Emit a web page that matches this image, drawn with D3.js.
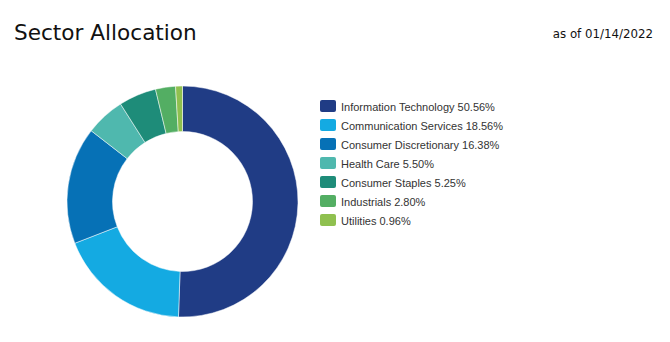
<!DOCTYPE html>
<html>
<head>
<meta charset="utf-8">
<script src="https://cdn.jsdelivr.net/npm/d3@7"></script>
<style>
  html, body { margin: 0; padding: 0; background: #fff; }
  svg { display: block; }
</style>
</head>
<body>
<svg id="chart" width="670" height="342"></svg>
<script>
// Sector weights of the fund
const sectors = [
  "Information Technology",
  "Communication Services",
  "Consumer Discretionary",
  "Health Care",
  "Consumer Staples",
  "Industrials",
  "Utilities"
];
const weights = [50.56, 18.56, 16.38, 5.50, 5.25, 2.80, 0.96];
const sectorColors = ["#203c85", "#14aae2", "#0671b6", "#4fb8ae", "#1e8c79", "#53ae63", "#8fc04f"];
const asOfDate = "01/14/2022";

const svg = d3.select("#chart");

svg.append("text")
  .attr("x", 14).attr("y", 40)
  .attr("font-family", "'DejaVu Sans', sans-serif")
  .attr("font-size", 21.6)
  .attr("fill", "#111")
  .text("Sector Allocation");

svg.append("text")
  .attr("x", 653).attr("y", 38)
  .attr("text-anchor", "end")
  .attr("font-family", "'DejaVu Sans', sans-serif")
  .attr("font-size", 11.8)
  .attr("fill", "#111")
  .text("as of " + asOfDate);

// Donut
const data = sectors.map((s, i) => ({ sector: s, value: weights[i], color: sectorColors[i] }));
const pie = d3.pie().value(d => d.value).sort(null);
const arc = d3.arc().innerRadius(70).outerRadius(115.5);

const g = svg.append("g").attr("transform", "translate(182.5,201.5)");
g.selectAll("path")
  .data(pie(data))
  .join("path")
  .attr("d", arc)
  .attr("fill", d => d.data.color)
  .attr("stroke", "#fff")
  .attr("stroke-width", 0.5);

// Legend
const color = d3.scaleOrdinal().domain(sectors).range(sectorColors);
const y = d3.scaleBand().domain(sectors).range([97, 97 + 19 * sectors.length]);
const legend = svg.append("g");
const rows = legend.selectAll("g")
  .data(data)
  .join("g")
  .attr("transform", d => `translate(320,${y(d.sector)})`);
rows.append("rect")
  .attr("x", 0).attr("y", 3)
  .attr("width", 16).attr("height", 12)
  .attr("rx", 2)
  .attr("fill", d => color(d.sector));
rows.append("text")
  .attr("x", 21).attr("y", 13.5)
  .attr("font-family", "'Liberation Sans', Arial, sans-serif")
  .attr("font-size", 11)
  .attr("fill", "#333")
  .text(d => `${d.sector} ${d.value.toFixed(2)}%`);
</script>
</body>
</html>
